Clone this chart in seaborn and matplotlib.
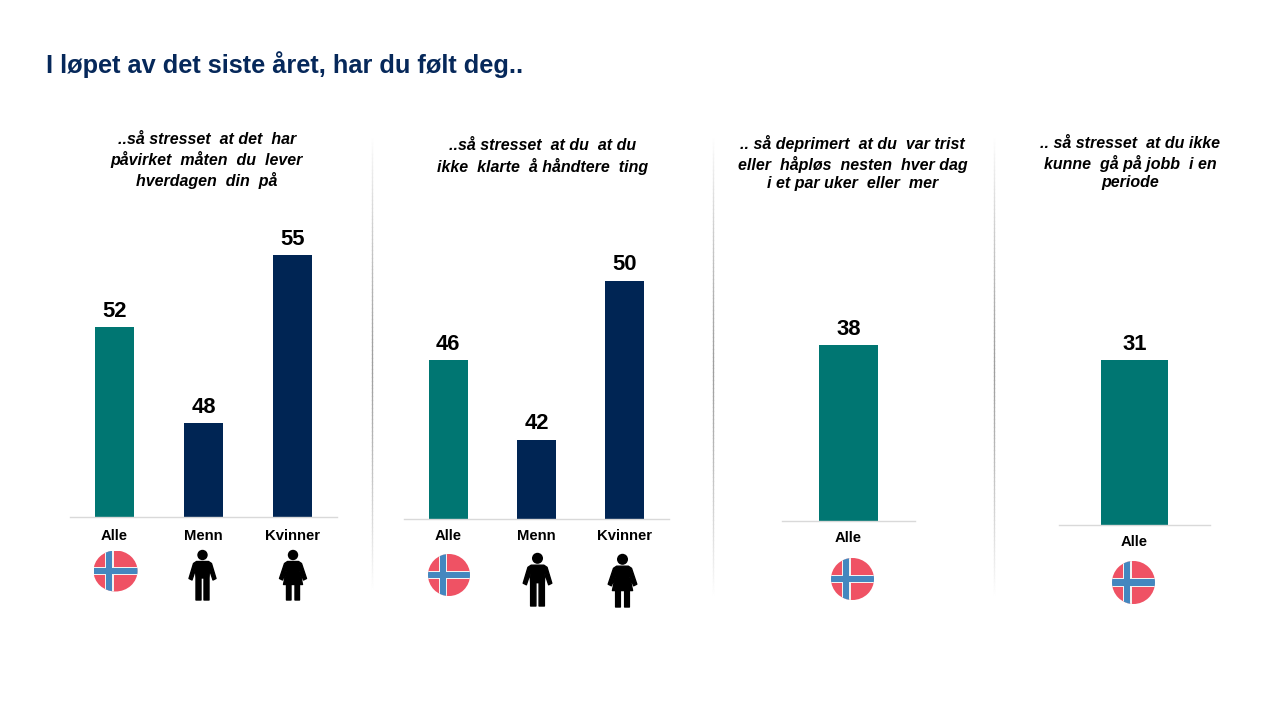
import matplotlib
matplotlib.use("Agg")
import matplotlib.pyplot as plt
from matplotlib.patches import Circle, Ellipse, Rectangle, Polygon
from matplotlib.collections import LineCollection
import seaborn as sns
import pandas as pd
import numpy as np

sns.set_theme(style="white")
plt.rcParams['font.family'] = ['Liberation Sans', 'DejaVu Sans']

TEAL = "#007672"
NAVY = "#002554"
TITLE = "I løpet av det siste året, har du følt deg.."

cats1 = ["Alle", "Menn", "Kvinner"]
vals1 = [52, 48, 55]
cats2 = ["Alle", "Menn", "Kvinner"]
vals2 = [46, 42, 50]
cats3 = ["Alle"]
vals3 = [38]
cats4 = ["Alle"]
vals4 = [31]
head1 = "..så stresset  at det  har\npåvirket  måten  du  lever\nhverdagen  din  på"
head2 = "..så stresset  at du  at du\nikke  klarte  å håndtere  ting"
head3 = ".. så deprimert  at du  var trist\neller  håpløs  nesten  hver dag\ni et par uker  eller  mer"
head4 = ".. så stresset  at du ikke\nkunne  gå på jobb  i en\nperiode"

W, H = 1280, 720
fig = plt.figure(figsize=(12.8, 7.2), dpi=100, facecolor="white")


def panel(cats, vals, x0, x1, base, top_px, ymin, px_per_unit, label_y):
    ax = fig.add_axes([x0 / W, 1 - base / H, (x1 - x0) / W, (base - top_px) / H])
    df = pd.DataFrame({"c": cats, "v": vals})
    pal = {c: (TEAL if c == "Alle" else NAVY) for c in cats}
    sns.barplot(data=df, x="c", y="v", hue="c", palette=pal, width=0.445,
                saturation=1, legend=False, linewidth=0, ax=ax)
    ax.set_xlim(-0.5, len(cats) - 0.5)
    ax.set_ylim(ymin, ymin + (base - top_px) / px_per_unit)
    ax.set_xlabel("")
    ax.set_ylabel("")
    ax.set_yticks([])
    ax.set_xticks([])
    ax.patch.set_alpha(0)
    for s in ["top", "left", "right"]:
        ax.spines[s].set_visible(False)
    ax.spines["bottom"].set_color("#D9D9D9")
    ax.spines["bottom"].set_linewidth(1)
    for i, (c, v) in enumerate(zip(cats, vals)):
        ax.annotate(str(v), (i, v), xytext=(0, 5.5), textcoords="offset pixels",
                    ha="center", va="bottom", fontsize=15.8, fontweight="bold", color="black")
        ax.annotate(c, (i, 0), xycoords=("data", "axes fraction"),
                    xytext=(0, base - label_y - 0.5), textcoords="offset pixels",
                    ha="center", va="center", fontsize=10.7, fontweight="bold", color="black")
    return ax


panel(cats1, vals1, 70, 337, 517, 230, 44.1, 24.0, 535)
panel(cats2, vals2, 404, 669, 519, 230, 38.0, 19.85, 536)
panel(cats3, vals3, 782, 915, 521, 300, 0, 175.6 / 38, 538)
panel(cats4, vals4, 1059, 1210, 525, 300, 0, 164.6 / 31, 542)

ov = fig.add_axes([0, 0, 1, 1], zorder=5)
ov.set_xlim(0, W)
ov.set_ylim(H, 0)
ov.axis("off")
ov.patch.set_alpha(0)

ov.text(46, 65, TITLE, fontsize=18.3, fontweight="bold", color="#06285A", ha="left", va="center")

for x, y, s in [(207, 160.5, head1), (543, 156.5, head2), (852.5, 163, head3), (1130.5, 163, head4)]:
    ov.text(x, y, s, fontsize=11.5, fontweight="bold", style="italic", color="black",
            ha="center", va="center", linespacing=1.3)


def separator(x, y0, y1):
    ys = np.linspace(y0, y1, 120)
    segs = [[(x, a), (x, b)] for a, b in zip(ys[:-1], ys[1:])]
    t = np.abs(np.linspace(-1, 1, len(segs)))
    grey = 0.62 + 0.38 * t ** 1.3
    ov.add_collection(LineCollection(segs, colors=[(g, g, g) for g in grey], linewidths=0.9,
                                     capstyle="projecting", zorder=1))


separator(371.7, 135, 592)
separator(712.7, 135, 598)
separator(993.7, 135, 598)


def flag(cx, cy, rx, ry):
    clip = Ellipse((cx, cy), 2 * rx, 2 * ry, transform=ov.transData)
    parts = [
        Rectangle((cx - rx, cy - ry), 2 * rx, 2 * ry, color="#EF5264", lw=0),
        Rectangle((cx - rx, cy - 0.20 * ry), 2 * rx, 0.40 * ry, color="#F2F2F2", lw=0),
        Rectangle((cx - 0.48 * rx, cy - ry), 0.40 * rx, 2 * ry, color="#F2F2F2", lw=0),
        Rectangle((cx - rx, cy - 0.14 * ry), 2 * rx, 0.28 * ry, color="#4487BF", lw=0),
        Rectangle((cx - 0.42 * rx, cy - ry), 0.28 * rx, 2 * ry, color="#4487BF", lw=0),
    ]
    for p in parts:
        ov.add_patch(p)
        p.set_clip_path(clip)


MAN = [(-6, 11.5), (6, 11.5), (9, 13.5), (13.5, 28.5), (10.5, 30), (7, 19.5), (6.5, 28),
       (6.5, 50), (1.5, 50), (1.5, 28), (-1.5, 28), (-1.5, 50), (-6.5, 50), (-6.5, 28),
       (-7, 19.5), (-10.5, 30), (-13.5, 28.5), (-9, 13.5)]
WOMAN = [(-5.5, 11.5), (5.5, 11.5), (8.5, 13.5), (13.5, 28.5), (10.5, 30), (6.5, 20), (9.5, 34.5),
         (6.5, 34.5), (6.5, 50), (2, 50), (2, 34.5), (-2, 34.5), (-2, 50), (-6.5, 50), (-6.5, 34.5),
         (-9.5, 34.5), (-6.5, 20), (-10.5, 30), (-13.5, 28.5), (-8.5, 13.5)]


def person(cx, top, scale, pts):
    ov.add_patch(Circle((cx, top + 5 * scale), 5.2 * scale, color="black", lw=0))
    ov.add_patch(Polygon([(cx + a * scale, top + b * scale) for a, b in pts], closed=True,
                         facecolor="black", edgecolor="black", lw=1.0, joinstyle="round"))


flag(115.5, 571, 22, 20.5)
person(202.5, 550, 1.0, MAN)
person(293, 550, 1.0, WOMAN)
flag(449, 575, 21, 21)
person(537.5, 553, 1.06, MAN)
person(622.5, 554, 1.06, WOMAN)
flag(852.5, 579, 21.5, 21)
flag(1133.5, 582.5, 21.5, 21.5)

fig.savefig("out.png", dpi=100, facecolor="white")
